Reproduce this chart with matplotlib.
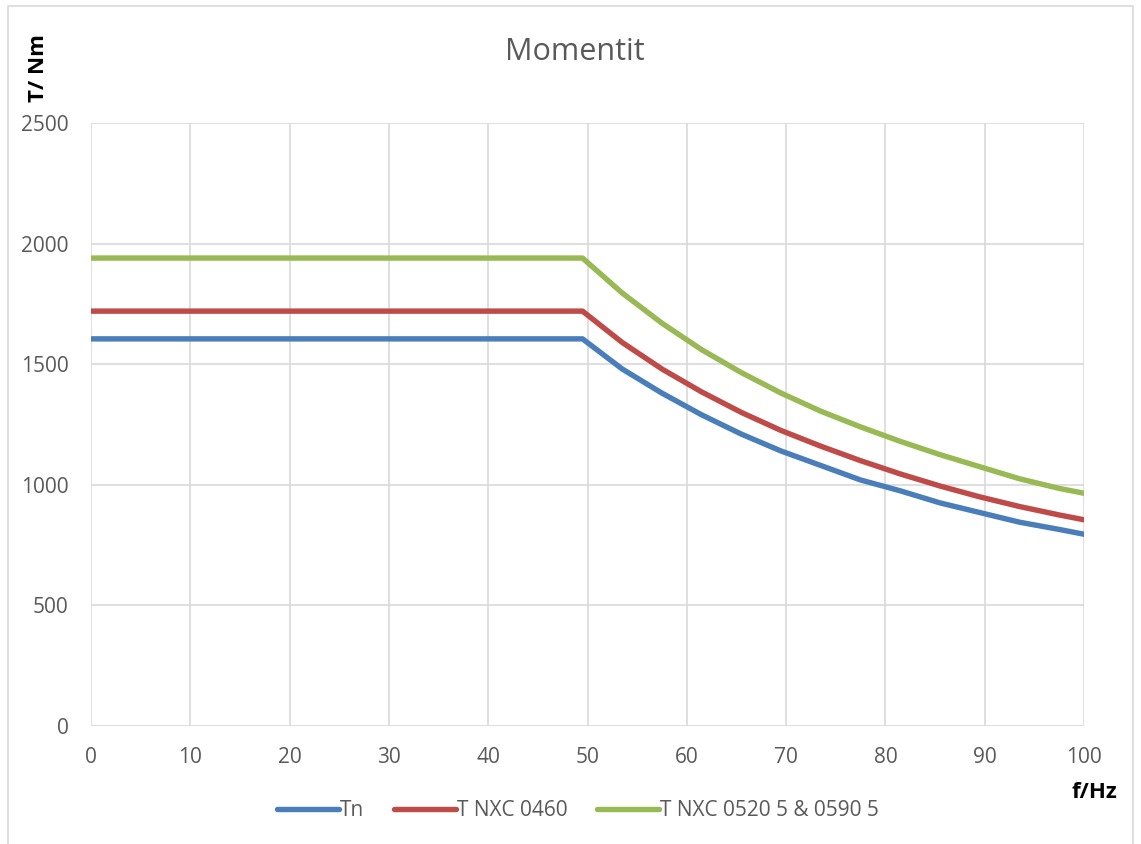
import matplotlib
matplotlib.use("Agg")
import matplotlib.pyplot as plt
from matplotlib.patches import Rectangle

# Frequency points (Hz)
freq = [0, 49.5, 53.5, 57.5, 61.5, 65.5, 69.5, 73.5, 77.5, 81.5, 85.5, 89.5, 93.5, 97.5, 100]

# Torque curves (Nm)
t_n = [1605, 1605, 1480, 1380, 1290, 1210, 1140, 1080, 1020, 975, 925, 885, 845, 815, 795]
t_nxc_0460 = [1720, 1720, 1590, 1480, 1385, 1300, 1225, 1160, 1100, 1045, 995, 950, 910, 875, 855]
t_nxc_0520 = [1940, 1940, 1795, 1670, 1560, 1465, 1380, 1305, 1240, 1180, 1125, 1075, 1025, 985, 965]

series_names = ["Tn", "T NXC 0460", "T NXC 0520 5 & 0590 5"]
series_colors = ["#4a7ebb", "#be4b48", "#98b954"]

x_ticks = list(range(0, 101, 10))
y_ticks = list(range(0, 2501, 500))

plt.rcParams['font.family'] = ['Open Sans', 'DejaVu Sans']

W, H = 1141, 844
fig = plt.figure(figsize=(W / 100, H / 100), dpi=100)

# outer chart border
fig.patches.append(Rectangle((8 / W, -0.01), (1133 - 8) / W, 1.01 - 6 / H,
                             transform=fig.transFigure, fill=False,
                             edgecolor="#d9d9d9", linewidth=1.2))

left, right, top, bottom = 91, 1084, 123, 726
ax = fig.add_axes([left / W, 1 - bottom / H, (right - left) / W, (bottom - top) / H])

for y, name, c in zip([t_n, t_nxc_0460, t_nxc_0520], series_names, series_colors):
    ax.plot(freq, y, color=c, linewidth=3.9, label=name, solid_capstyle="round",
            solid_joinstyle="round", zorder=3)

ax.set_xlim(0, 100)
ax.set_ylim(0, 2500)
ax.set_xticks(x_ticks)
ax.set_yticks(y_ticks)
ax.grid(True, color="#d9d9d9", linewidth=1.2, zorder=0)
for s in ax.spines.values():
    s.set_visible(False)
ax.tick_params(length=0, labelsize=15, labelcolor="#595959")
ax.tick_params(axis="y", pad=16)
ax.tick_params(axis="x", pad=15)

fig.text(575 / W, 1 - 52 / H, "Momentit", ha="center", va="center",
         fontsize=22, color="#595959")
fig.text(38 / W, 1 - 68 / H, "T/ Nm", ha="center", va="center", rotation=90,
         fontsize=16, fontweight="bold", color="black")
fig.text(1094 / W, 1 - 792 / H, "f/Hz", ha="center", va="center",
         fontsize=16, fontweight="bold", color="black")

fig.legend(loc="center", bbox_to_anchor=(578 / W, 1 - 811 / H), ncol=3,
           frameon=False, fontsize=15, labelcolor="#595959",
           handlelength=3.0, handletextpad=0.05, columnspacing=1.4)

fig.savefig("out.png", dpi=100)
